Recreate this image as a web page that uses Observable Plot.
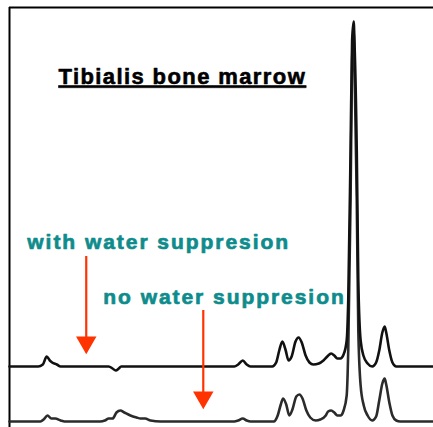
<!DOCTYPE html>
<html>
<head>
<meta charset="utf-8">
<script src="https://cdn.jsdelivr.net/npm/d3@7"></script>
<script src="https://cdn.jsdelivr.net/npm/@observablehq/plot@0.6"></script>
<style>
  html, body { margin: 0; padding: 0; background: #fff; }
  #chart svg { display: block; }
</style>
</head>
<body>
<div id="chart"></div>
<script>
// Chemical shift axis (ppm), reversed as in NMR
const xDomain = [5.74, 0.27];

// Spectrum WITH water suppression: ppm / signal above its baseline
const withPpm = [5.74,5.37,5.31,5.26,5.22,5.19,5.13,5.08,4.46,4.41,4.37,4.33,4.30,2.84,2.79,2.73,2.68,2.63,2.35,2.30,2.26,2.22,2.18,2.14,2.10,2.05,2.01,1.97,1.92,1.87,1.82,1.75,1.69,1.64,1.59,1.55,1.51,1.47,1.43,1.39,1.37,1.34,1.32,1.30,1.29,1.26,1.24,1.21,1.17,1.12,1.06,1.01,0.97,0.93,0.90,0.88,0.84,0.80,0.75,0.27];
const withSignal = [0,0,2,10,6,4,2,0,0,-2,-4,-2,0,0,2,6,2,0,0,4,16,25,17,6,10,25,29,24,11,4,2,3,6,10,13,11,8,8,12,26,66,216,326,345,326,216,86,26,10,3,0,4,16,34,40,34,16,4,0,0];

// Spectrum WITHOUT water suppression
const noPpm = [5.74,5.34,5.30,5.25,5.20,5.15,5.08,5.03,4.57,4.51,4.46,4.41,4.36,4.31,4.26,4.18,4.10,4.05,3.99,3.92,3.79,2.84,2.79,2.73,2.68,2.63,2.33,2.28,2.24,2.21,2.17,2.13,2.09,2.04,2.00,1.96,1.91,1.86,1.79,1.73,1.66,1.63,1.59,1.55,1.51,1.47,1.43,1.39,1.37,1.34,1.32,1.30,1.29,1.26,1.24,1.21,1.17,1.12,1.06,1.01,0.97,0.93,0.90,0.88,0.84,0.80,0.75,0.70,0.27];
const noSignal = [0,0,2,6,3,3,1,0,0,1,3,3,9,11,9,6,4,3,3,1,0,0,1,3,1,0,0,6,17,23,17,6,12,25,27,23,11,4,1,2,6,10,11,9,6,6,11,26,71,221,361,391,361,221,91,36,16,6,1,5,21,38,43,37,19,6,1,0,0];

// Annotations
const title = "Tibialis bone marrow";
const labelTexts = ["with water suppresion", "no water suppresion"];
const labelPpm = [5.51, 4.53];
const labelY = [179, 124];
const arrowPpm = [4.75, 3.24];
const arrowTop = [163, 109];
const arrowTip = [74, 19];

// vertical stacking of the two spectra
const UPPER_OFFSET = 61, LOWER_OFFSET = 6;
const withData = withPpm.map((p, i) => ({ppm: p, y: withSignal[i] + UPPER_OFFSET}));
const noData = noPpm.map((p, i) => ({ppm: p, y: noSignal[i] + LOWER_OFFSET}));
const labels = labelTexts.map((t, i) => ({text: t, ppm: labelPpm[i], y: labelY[i]}));
const arrows = arrowPpm.map((p, i) => ({ppm: p, y1: arrowTop[i], y2: arrowTip[i]}));

const red = "#ff3300";
const teal = "#0e8c8c";

const plot = Plot.plot({
  width: 433,
  height: 427,
  marginTop: 7,
  marginLeft: 9,
  marginRight: 0,
  marginBottom: 0,
  x: {domain: xDomain, axis: null},
  y: {domain: [0, 420], axis: null},
  style: {background: "#fff"},
  marks: [
    Plot.ruleX([xDomain[0]], {stroke: "#000", strokeWidth: 2}),
    Plot.ruleY([420], {stroke: "#000", strokeWidth: 2}),
    Plot.line(noData, {x: "ppm", y: "y", stroke: "#2b2b2b", strokeWidth: 2.6, curve: "monotone-x"}),
    Plot.line(withData, {x: "ppm", y: "y", stroke: "#111", strokeWidth: 2.6, curve: "monotone-x"}),
    Plot.ruleX(arrows, {x: "ppm", y1: "y1", y2: "y2", stroke: red, strokeWidth: 2.2, dy: -8}),
    Plot.dot(arrows, {x: "ppm", y: "y2", symbol: "triangle", r: 7.6, rotate: 180, fill: red, stroke: "none", dy: -11}),
    Plot.text(labels, {x: "ppm", y: "y", text: "text", textAnchor: "start", lineAnchor: "bottom",
      fill: teal, stroke: teal, strokeWidth: 0.7, fontSize: 21, fontWeight: "bold", fontFamily: "Liberation Sans, Arial, sans-serif"}),
    Plot.text([title], {frameAnchor: "top-left", dx: 49, dy: 76, text: d => d, textAnchor: "start", lineAnchor: "bottom",
      fill: "#000", stroke: "#000", strokeWidth: 0.6, fontSize: 22, fontWeight: "bold", fontFamily: "Liberation Sans, Arial, sans-serif"})
  ]
});

// styling tweaks for the text (spacing, underline)
plot.querySelectorAll("text").forEach(t => {
  const s = t.textContent;
  if (labelTexts.includes(s)) t.setAttribute("letter-spacing", "1.95");
  if (s === title) {
    t.setAttribute("letter-spacing", "1.4");
    t.style.textDecoration = "underline";
  }
});

document.getElementById("chart").appendChild(plot);
</script>
</body>
</html>
